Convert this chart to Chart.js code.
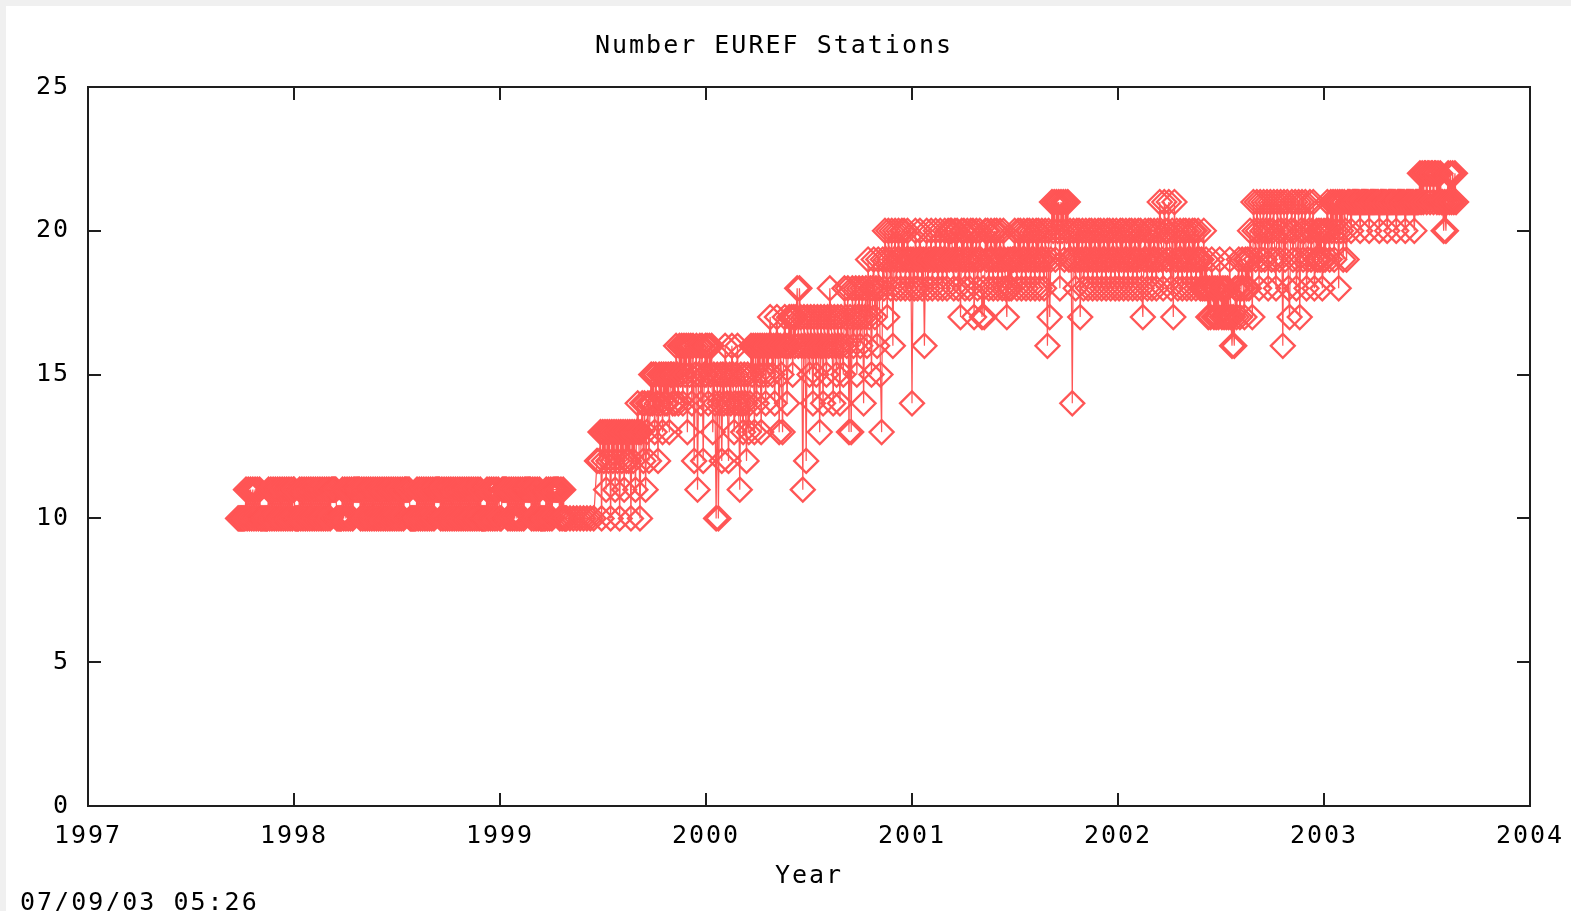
<!DOCTYPE html>
<html>
<head>
<meta charset="utf-8">
<script src="https://cdn.jsdelivr.net/npm/chart.js@4"></script>
<style>
  html, body { margin: 0; padding: 0; background: #f0f0f0; overflow: hidden; }
  #wrap { position: absolute; left: 6px; top: 6px; width: 1565px; height: 905px; background: #ffffff; }
  canvas { display: block; }
</style>
</head>
<body>
<div id="wrap"><canvas id="c" width="1565" height="905"></canvas></div>
<script>
// ---------------- data ----------------
const chartTitle = 'Number EUREF Stations';
const xAxisTitle = 'Year';
const stampText = '07/09/03 05:26';
const xTickYears = [1997, 1998, 1999, 2000, 2001, 2002, 2003, 2004];
const yTickValues = [0, 5, 10, 15, 20, 25];
const stepDays = 2;   // one sample every second day
const startDates = ['1997-09-24', '1998-01-01', '1999-01-01', '2000-01-01', '2001-01-01', '2002-01-01', '2003-01-01'];

const counts1997 = [10,10,10,10,10,10,10,
 11,10,11,10,11,10,11,10,11,10,11,10,11,10,
 10,10,10,10,10,10,
 11,10,11,10,11,10,11,10,11,10,11,10,11,10,11,10,11,10,11,10,11,10,11];

const counts1998 = [11,10,10,10,10,
 11,10,11,10,11,10,11,10,11,10,11,10,11,10,11,10,11,10,11,10,11,10,11,10,11,10,11,10,
 11,11,11,11,11,
 10,10,10,10,10,
 11,10,11,10,11,10,11,10,11,10,11,
 11,11,11,11,11,
 10,11,10,11,10,11,10,11,10,11,10,11,10,11,10,11,10,11,10,11,10,11,10,11,10,11,10,11,10,11,10,11,10,11,10,11,10,11,10,
 11,11,11,11,11,
 10,10,10,10,10,10,
 11,10,11,10,11,10,11,10,11,10,11,10,11,10,11,10,
 11,11,11,11,11,
 10,11,10,11,10,11,10,11,10,11,10,11,10,11,10,11,10,11,10,11,10,11,10,11,10,11,10,11,10,11,10,11,10,11,10,11,
 10,10,10,10,10,
 11,10,11,10,11,10,11,10,11,10,11];

const counts1999 = [10,10,11,11,11,11,11,
 10,11,10,11,10,11,10,11,10,11,10,11,10,11,10,11,
 11,11,11,11,11,
 10,11,10,11,10,11,10,11,
 10,10,10,10,10,
 11,10,11,10,11,10,11,
 11,11,11,11,11,
 10,11,10,11,10,10,
 10,null,null,10,null,null,10,null,null,10,null,null,10,null,null,10,null,null,10,null,null,10,null,null,10,null,null,
 12,null,12,13,10,13,12,13,11,13,12,13,10,13,12,13,11,13,12,13,10,13,12,13,11,13,12,13,12,13,10,13,12,13,11,13,14,13,10,13,14,12,14,11,13,14,12,14,
 15,14,15,13,15,14,12,15,14,15,13,15,14,15,14,15,13,15,
 15,14,15,14,16,15,14,16,15,16,14,16,15,16,13,16,15,16,14,16,12,15,16,11,15,16,14,16,12,15,16];

const counts2000 = [15,16,14,16,15,16,13,15,14,10,15,10,14,
 15,12,15,14,16,15,14,12,15,14,16,15,13,14,15,16,14,11,15,14,13,15,14,12,15,13,14,
 16,15,16,13,16,14,16,15,16,13,16,15,16,14,16,15,16,
 17,16,15,16,14,16,17,16,13,16,15,13,16,17,16,14,16,
 17,16,17,15,17,16,17,18,16,18,17,16,11,17,16,12,17,16,15,17,16,14,17,16,15,17,16,13,17,16,14,17,16,15,17,16,18,17,16,14,17,16,15,17,16,14,17,16,15,
 18,17,16,18,13,17,13,18,16,17,18,15,17,18,16,17,18,14,17,18,16,19,17,18,15,18,19,17,18,16,19,18,
 15,13,19,18,20,19,17,20,19,18,20,16,19,20,18,19,20,19,18,20,19,20,18,19,20,19,18,19];

const counts2001 = [14,19,18,20,19,18,19,20,19,18,19,16,19,20,18,19,19,20,18,19,19,20,19,18,19,20,19,18,19,20,19,18,20,19,20,
 20,19,18,20,19,20,18,19,17,20,19,20,18,19,20,19,18,20,19,20,17,19,20,18,19,20,19,17,18,17,20,19,20,18,19,20,19,18,20,19,20,18,19,20,19,18,20,19,18,
 17,19,18,19,18,19,19,
 20,19,18,20,19,20,18,19,20,19,18,20,19,20,18,19,20,19,18,20,19,20,18,19,20,19,18,20,19,16,20,17,19,
 21,20,21,19,21,20,21,18,21,20,21,19,21,20,21,19,20,
 19,14,20,19,18,20,19,20,17,19,20,18,19,20,19,18,20,19,20,18,19,20,19,18,20,19,20,18,19,20,19,18,20,19,20,18,19,20,19,18,20];

const counts2002 = [19,18,20,19,20,18,19,20,19,18,20,19,20,18,19,20,19,18,20,19,20,18,17,19,20,19,18,20,19,20,18,19,20,19,18,20,19,21,20,19,18,21,20,19,20,21,19,18,20,17,21,19,20,18,19,20,19,18,20,19,20,18,19,20,19,18,20,19,20,18,19,20,19,
 18,19,18,20,18,19,18,17,18,17,19,18,17,18,17,18,17,19,18,17,18,17,18,17,18,17,19,17,16,17,16,18,17,18,19,17,18,19,18,17,19,18,19,18,
 20,19,17,21,20,19,21,20,18,21,19,20,21,19,20,21,18,20,21,19,20,21,19,18,21,20,19,21,20,16,21,19,20,21,18,17,20,21,19,20,21,18,19,21,17,20,21,19,20,21,18,19,20,21,19,20,21,18,19,20,19,20,19,20,18,19];

const counts2003 = [20,19,20,21,20,19,21,20,21,19,21,20,21,18,21,20,21,19,21,20,
 19,21,21,21,20,21,21,21,21,21,21,21,20,21,21,21,21,21,21,21,20,21,21,21,21,21,21,21,21,20,21,21,21,21,21,21,20,21,21,21,21,21,21,21,20,21,21,21,21,21,21,21,20,21,21,21,21,21,21,21,20,21,21,21,21,
 22,21,22,21,22,22,21,22,22,21,22,22,21,22,22,21,22,21,22,21,21,20,21,20,21,22,21,22,21,22,21,22,21];

const countsByYear = [counts1997, counts1998, counts1999, counts2000, counts2001, counts2002, counts2003];

// ---------------- build the library's data table ----------------
function decimalYear(ms) {
  const y = new Date(ms).getUTCFullYear();
  const a = Date.UTC(y, 0, 1), b = Date.UTC(y + 1, 0, 1);
  return y + (ms - a) / (b - a);
}
const points = [];
countsByYear.forEach((vals, k) => {
  const t0 = Date.parse(startDates[k] + 'T00:00:00Z');
  vals.forEach((v, i) => points.push({ x: decimalYear(t0 + i * stepDays * 86400000), y: v }));
});

// ---------------- styling ----------------
const RED = '#ff5555';
const FONT_FAMILY = "'DejaVu Sans Mono', 'Liberation Mono', monospace";
const textFont = { family: FONT_FAMILY, size: 25, lineHeight: 1, weight: 'normal' };

const spacingPlugin = {
  id: 'spacing',
  beforeLayout(chart) { try { chart.ctx.letterSpacing = '2px'; } catch (e) {} },
  beforeDraw(chart) { try { chart.ctx.letterSpacing = '2px'; } catch (e) {} }
};

const framePlugin = {
  id: 'frame',
  afterDraw(chart) {
    const { ctx, chartArea: a, scales } = chart;
    const TL = 13;
    ctx.save();
    ctx.strokeStyle = '#1e1e1e';
    ctx.lineWidth = 2;
    ctx.strokeRect(a.left, a.top, a.right - a.left, a.bottom - a.top);
    ctx.beginPath();
    scales.x.ticks.forEach(t => {
      if (t.value <= scales.x.min || t.value >= scales.x.max) return;
      const px = Math.round(scales.x.getPixelForValue(t.value));
      ctx.moveTo(px, a.bottom); ctx.lineTo(px, a.bottom - TL);
      ctx.moveTo(px, a.top); ctx.lineTo(px, a.top + TL);
    });
    scales.y.ticks.forEach(t => {
      if (t.value <= scales.y.min || t.value >= scales.y.max) return;
      const py = Math.round(scales.y.getPixelForValue(t.value));
      ctx.moveTo(a.left, py); ctx.lineTo(a.left + TL, py);
      ctx.moveTo(a.right, py); ctx.lineTo(a.right - TL, py);
    });
    ctx.stroke();
    // time stamp bottom-left
    ctx.fillStyle = '#000';
    ctx.font = `25px ${FONT_FAMILY}`;
    ctx.textAlign = 'left';
    ctx.textBaseline = 'middle';
    ctx.fillText(stampText, 14, 897);
    ctx.restore();
  }
};

new Chart(document.getElementById('c').getContext('2d'), {
  type: 'line',
  data: {
    datasets: [{
      data: points,
      borderColor: RED,
      borderWidth: 1.2,
      pointStyle: 'rectRot',
      pointRadius: 12,
      pointBorderWidth: 2.3,
      pointBorderColor: RED,
      pointBackgroundColor: 'rgba(0,0,0,0)',
      spanGaps: true,
      tension: 0,
      fill: false
    }]
  },
  options: {
    responsive: false,
    animation: false,
    events: [],
    layout: { padding: { left: 12, right: 41, top: 0, bottom: 0 } },
    plugins: {
      legend: { display: false },
      tooltip: { enabled: false },
      title: {
        display: true, text: chartTitle, color: '#000', font: textFont,
        padding: { top: 27.5, bottom: 28.5 }
      }
    },
    scales: {
      x: {
        type: 'linear', min: xTickYears[0], max: xTickYears[xTickYears.length - 1],
        afterFit(s) { s.height = 105; s.paddingLeft = 0; s.paddingRight = 0; },
        afterBuildTicks(s) { s.ticks = xTickYears.map(v => ({ value: v })); },
        grid: { display: false, drawTicks: false },
        border: { display: false },
        ticks: { color: '#000', font: textFont, padding: 17.5, maxRotation: 0, autoSkip: false, callback: v => String(v) },
        title: { display: true, text: xAxisTitle, color: '#000', font: textFont, padding: { top: 0, bottom: 22.5 } }
      },
      y: {
        min: yTickValues[0], max: yTickValues[yTickValues.length - 1],
        afterFit(s) { s.width = 70; },
        afterBuildTicks(s) { s.ticks = yTickValues.map(v => ({ value: v })); },
        grid: { display: false, drawTicks: false },
        border: { display: false },
        ticks: { color: '#000', font: textFont, padding: 18, callback: v => String(v) }
      }
    }
  },
  plugins: [spacingPlugin, framePlugin]
});
</script>
</body>
</html>
